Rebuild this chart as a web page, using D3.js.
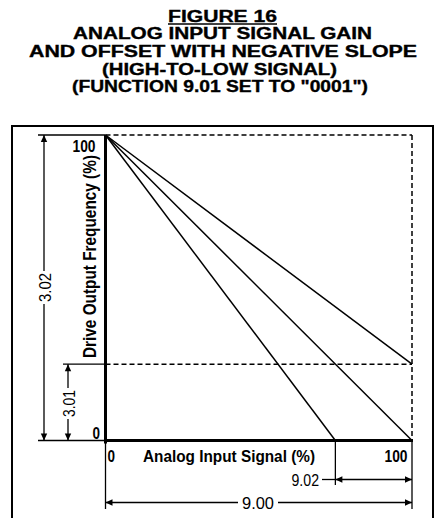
<!DOCTYPE html>
<html>
<head>
<meta charset="utf-8">
<script src="https://cdn.jsdelivr.net/npm/d3@7"></script>
<style>
  body { margin: 0; background: #fff; }
  svg { display: block; }
  text { font-family: "Liberation Sans", Arial, Helvetica, sans-serif; fill: #000; }
</style>
</head>
<body>
<svg id="chart" width="438" height="518"></svg>
<script>
// ---- data ----
const titleLines = ["FIGURE 16", "ANALOG INPUT SIGNAL GAIN", "AND OFFSET WITH NEGATIVE SLOPE",
                    "(HIGH-TO-LOW SIGNAL)", "(FUNCTION 9.01 SET TO \"0001\")"];
const xTicks = [0, 100];
const yTicks = [0, 100];
const xLabel = "Analog Input Signal (%)";
const yLabel = "Drive Output Frequency (%)";
// every curve starts at full output with zero signal
const curveStart = { signal: 0, output: 100 };
const curveEnds = [
  { signal: 100, output: 25 },  // with offset (3.01)
  { signal: 100, output: 0 },   // plain negative slope
  { signal: 75,  output: 0 }    // with gain (9.02)
];
const offsetLevel = 25;   // parameter 3.01
const gainPoint = 75;     // parameter 9.02
const dimLabels = { maxFreq: "3.02", minFreq: "3.01", gain: "9.02", fullScale: "9.00" };

// ---- layout ----
const svg = d3.select("#chart");
const x = d3.scaleLinear().domain([0, 100]).range([105.5, 412]);
const y = d3.scaleLinear().domain([0, 100]).range([440.5, 135]);

// title
const titleLayout = [
  { x0: 168, base: 21.5, w: 109 },
  { x0: 73,  base: 39.3, w: 299 },
  { x0: 29,  base: 57,   w: 388 },
  { x0: 102, base: 74.7, w: 235 },
  { x0: 72,  base: 92.4, w: 296 }
];
svg.selectAll("text.title").data(titleLines).join("text")
  .attr("class", "title")
  .attr("x", (d, i) => titleLayout[i].x0)
  .attr("y", (d, i) => titleLayout[i].base)
  .attr("textLength", (d, i) => titleLayout[i].w)
  .attr("lengthAdjust", "spacingAndGlyphs")
  .attr("stroke", "#000").attr("stroke-width", 0.35)
  .style("font-size", "15.8px").style("font-weight", "bold")
  .text(d => d);
svg.append("line")
  .attr("x1", 168).attr("x2", 277).attr("y1", 24).attr("y2", 24)
  .attr("stroke", "#000").attr("stroke-width", 1.6);

// outer frame
svg.append("rect")
  .attr("x", 12).attr("y", 126).attr("width", 421).attr("height", 420)
  .attr("fill", "none").attr("stroke", "#000").attr("stroke-width", 2);

const g = svg.append("g");
const solid = (x1, y1, x2, y2, w = 1.3) => g.append("line")
  .attr("x1", x1).attr("y1", y1).attr("x2", x2).attr("y2", y2)
  .attr("stroke", "#000").attr("stroke-width", w);
const dashed = (x1, y1, x2, y2) => solid(x1, y1, x2, y2, 1.5).attr("stroke-dasharray", "5,3");
// filled arrowhead whose tip sits at (px, py)
const arrow = (px, py, dir) => {
  const L = 7, H = 3.2;
  const pts = {
    up:    [[px, py], [px - H, py + L], [px + H, py + L]],
    down:  [[px, py], [px - H, py - L], [px + H, py - L]],
    left:  [[px, py], [px + L, py - H], [px + L, py + H]],
    right: [[px, py], [px - L, py - H], [px - L, py + H]]
  }[dir];
  g.append("path").attr("d", d3.line()(pts) + "Z").attr("fill", "#000");
};

// reference dashed lines
dashed(x(0), y(100), x(100), y(100));
dashed(x(100), y(100), x(100), y(0));
dashed(x(0), y(offsetLevel), x(100), y(offsetLevel));

// curves
g.selectAll("line.curve").data(curveEnds).join("line")
  .attr("class", "curve")
  .attr("x1", x(curveStart.signal)).attr("y1", y(curveStart.output))
  .attr("x2", d => x(d.signal)).attr("y2", d => y(d.output))
  .attr("stroke", "#000").attr("stroke-width", 1.5);

// axes
solid(x(0), y(100), x(0), y(0) + 3, 3);
solid(x(0) - 1.5, y(0), x(100) + 1, y(0), 3);

// axis tick labels
const yTickLayout = { 100: { xr: 95.5, dy: 17 }, 0: { xr: 100, dy: -2 } };
svg.selectAll("text.ytick").data(yTicks).join("text")
  .attr("class", "ytick")
  .attr("x", d => yTickLayout[d].xr).attr("y", d => y(d) + yTickLayout[d].dy)
  .attr("text-anchor", "end")
  .attr("textLength", d => d === 100 ? 23 : 7.5).attr("lengthAdjust", "spacingAndGlyphs")
  .style("font-size", "16px").style("font-weight", "bold")
  .text(d => d);
svg.selectAll("text.xtick").data(xTicks).join("text")
  .attr("class", "xtick")
  .attr("x", d => d === 0 ? x(d) + 2 : x(d) - 4.5)
  .attr("y", y(0) + 21)
  .attr("text-anchor", d => d === 0 ? "start" : "end")
  .attr("textLength", d => d === 100 ? 23 : 7.5).attr("lengthAdjust", "spacingAndGlyphs")
  .style("font-size", "16px").style("font-weight", "bold")
  .text(d => d);

// axis titles
svg.append("text")
  .attr("x", 143).attr("y", y(0) + 21)
  .attr("textLength", 172).attr("lengthAdjust", "spacingAndGlyphs")
  .style("font-size", "16px").style("font-weight", "bold")
  .text(xLabel);
svg.append("text")
  .attr("transform", "translate(95.5,358) rotate(-90)")
  .attr("textLength", 203).attr("lengthAdjust", "spacingAndGlyphs")
  .style("font-size", "18px").style("font-weight", "bold")
  .text(yLabel);

// ---- dimension lines ----
const dimText = (cx, cy, s, len, rotate) => svg.append("text")
  .attr("transform", `translate(${cx},${cy})` + (rotate ? " rotate(-90)" : ""))
  .attr("text-anchor", "middle").attr("dy", "0.36em")
  .attr("textLength", len).attr("lengthAdjust", "spacingAndGlyphs")
  .style("font-size", "16px")
  .text(s);

// 3.02: full range of output
const xMax = 44;
solid(38, y(100), x(0), y(100));
solid(38, y(0), x(0), y(0));
solid(xMax, y(100), xMax, 271);
solid(xMax, 304, xMax, y(0));
arrow(xMax, y(100), "up");
arrow(xMax, y(0), "down");
dimText(xMax + 1, 287.5, dimLabels.maxFreq, 29, true);

// 3.01: offset
const xMin = 68;
solid(63, y(offsetLevel), x(0), y(offsetLevel));
solid(xMin, y(offsetLevel), xMin, 388);
solid(xMin, 419, xMin, y(0));
arrow(xMin, y(offsetLevel), "up");
arrow(xMin, y(0), "down");
dimText(xMin + 1, 403.5, dimLabels.minFreq, 27, true);

// extension lines below the signal axis
solid(x(0), y(0), x(0), 509);
solid(x(100), y(0), x(100), 509);
solid(x(gainPoint), y(0), x(gainPoint), 485);

// 9.02: gain
const yGain = 479.5;
solid(x(gainPoint), yGain, x(100), yGain);
solid(322, yGain, x(gainPoint), yGain);
arrow(x(gainPoint), yGain, "left");
arrow(x(100), yGain, "right");
svg.append("text")
  .attr("x", 319).attr("y", 485.5).attr("text-anchor", "end")
  .attr("textLength", 27.5).attr("lengthAdjust", "spacingAndGlyphs")
  .style("font-size", "16px").text(dimLabels.gain);

// 9.00: full scale signal
const yFull = 502.5;
solid(x(0), yFull, 238, yFull);
solid(278, yFull, x(100), yFull);
arrow(x(0), yFull, "left");
arrow(x(100), yFull, "right");
svg.append("text")
  .attr("x", 258).attr("y", 508.5).attr("text-anchor", "middle")
  .attr("textLength", 32).attr("lengthAdjust", "spacingAndGlyphs")
  .style("font-size", "16px").text(dimLabels.fullScale);
</script>
</body>
</html>
